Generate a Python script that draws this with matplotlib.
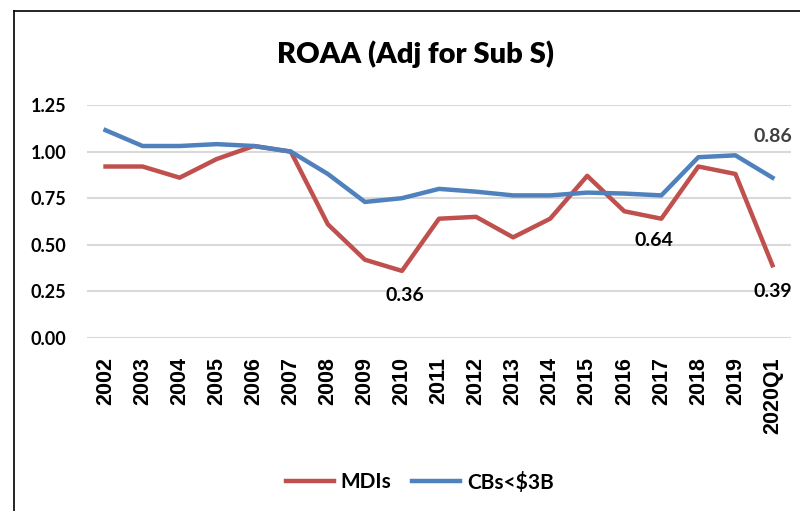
import numpy as np
import matplotlib
matplotlib.use("Agg")
import matplotlib.pyplot as plt
from matplotlib.lines import Line2D

# data
periods = ["2002", "2003", "2004", "2005", "2006", "2007", "2008", "2009", "2010",
           "2011", "2012", "2013", "2014", "2015", "2016", "2017", "2018", "2019", "2020Q1"]
mdis = [0.92, 0.92, 0.86, 0.96, 1.03, 1.00, 0.61, 0.42, 0.36,
        0.64, 0.65, 0.54, 0.64, 0.87, 0.68, 0.64, 0.92, 0.88, 0.39]
cbs = [1.115, 1.03, 1.03, 1.04, 1.03, 1.00, 0.88, 0.73, 0.75,
       0.80, 0.785, 0.765, 0.765, 0.78, 0.775, 0.765, 0.97, 0.98, 0.86]
yticks = [0.00, 0.25, 0.50, 0.75, 1.00, 1.25]

red = "#C0504D"
blue = "#4F81BD"
font = "Lato"

fig = plt.figure(figsize=(8, 5.11), dpi=100)
ax = fig.add_axes([87 / 800, 1 - 338 / 511, (791 - 87) / 800, (338 - 105) / 511])

x = np.arange(len(periods))
ax.plot(x, mdis, color=red, lw=3.2, label="MDIs", solid_joinstyle="round", zorder=3)
ax.plot(x, cbs, color=blue, lw=3.2, label="CBs<$3B", solid_joinstyle="round", zorder=3)

ax.set_xlim(-0.5, len(periods) - 0.5)
ax.set_ylim(0, 1.25)
ax.set_yticks(yticks)
ax.set_yticklabels([f"{v:.2f}" for v in yticks], fontfamily=font, fontweight="bold", fontsize=13)
ax.set_xticks(x)
ax.set_xticklabels(periods, rotation=90, fontfamily="Liberation Sans", fontweight="bold", fontsize=15.5)
ax.tick_params(axis="y", length=0, pad=15)
ax.tick_params(axis="x", length=0, pad=14)
for s in ax.spines.values():
    s.set_visible(False)
ax.yaxis.grid(True, color="#D9D9D9", lw=1.5)
ax.set_axisbelow(True)

# data labels
lab = dict(fontfamily=font, fontweight="bold", fontsize=14, ha="center", va="center")
i10 = periods.index("2010")
i17 = periods.index("2017")
ax.annotate(f"{mdis[i10]:.2f}", (i10, mdis[i10]), xytext=(2, -18), textcoords="offset points", **lab)
ax.annotate(f"{mdis[i17]:.2f}", (i17, mdis[i17]), xytext=(-5, -16), textcoords="offset points", **lab)
ax.annotate(f"{mdis[-1]:.2f}", (x[-1], mdis[-1]), xytext=(0, -19), textcoords="offset points", **lab)
ax.annotate(f"{cbs[-1]:.2f}", (x[-1], cbs[-1]), xytext=(0, 30), textcoords="offset points",
            color="#404040", annotation_clip=False, **lab)

fig.text(415 / 800, 1 - 54 / 511, "ROAA (Adj for Sub S)", fontfamily=font, fontweight="heavy",
         fontsize=21, ha="center", va="center")

fig.legend(loc="center", bbox_to_anchor=(420 / 800, 1 - 482 / 511), ncol=2, frameon=False,
           prop=dict(family=font, weight="bold", size=15), handlelength=2.3,
           handletextpad=0.35, columnspacing=1.0)

# chart border (left and top visible)
fig.add_artist(Line2D([14 / 800, 14 / 800], [0, 1 - 11 / 511], color="black", lw=1.2))
fig.add_artist(Line2D([14 / 800, 1], [1 - 11 / 511, 1 - 11 / 511], color="black", lw=1.2))

fig.savefig("out.png", dpi=100)
